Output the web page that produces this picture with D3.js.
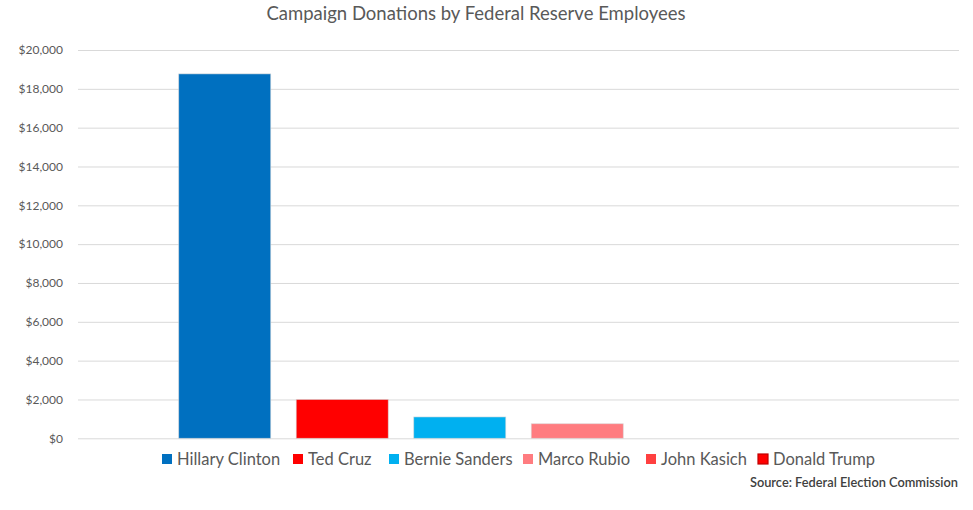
<!DOCTYPE html>
<html><head><meta charset="utf-8">
<script src="https://cdn.jsdelivr.net/npm/d3@7"></script>
<style>
body{margin:0;background:#fff;}
svg{display:block;font-family:Lato, "Open Sans", sans-serif;}
</style></head>
<body><svg id="chart" width="973" height="510"></svg>
<script>
const candidates = ["Hillary Clinton","Ted Cruz","Bernie Sanders","Marco Rubio","John Kasich","Donald Trump"];
const donations = [18770, 2000, 1100, 750, 0, 0];
const colors = ["#0070C0","#FF0000","#00B0F0","#FF7C80","#FF4040","#FF0000"];
const strokes = ["#0070C0","#FF0000","#00B0F0","#FF7C80","#FF4040","#C00000"];
const yTicks = [0,2000,4000,6000,8000,10000,12000,14000,16000,18000,20000];
const title = "Campaign Donations by Federal Reserve Employees";
const source = "Source: Federal Election Commission";

const svg = d3.select("#chart");
const x = d3.scaleBand().domain(candidates).range([78,959]).paddingInner(0.217).paddingOuter(0.857);
const y = d3.scaleLinear().domain([0,20000]).range([438.3,50]);

// gridlines
const yAxis = d3.axisLeft(y).tickValues(yTicks).tickSize(-(959-78)).tickFormat(d=>"$"+d3.format(",")(d)).tickPadding(15);
const g = svg.append("g").attr("transform","translate(78,0)").call(yAxis);
g.select(".domain").remove();
g.selectAll(".tick line").attr("stroke","#d9d9d9").attr("stroke-width",1);
g.selectAll(".tick text").attr("fill","#595959").style("font-size","12px").attr("font-family","Lato, sans-serif");

// bars
const data = candidates.map((c,i)=>({c, v:donations[i], col:colors[i]}));
svg.append("g").selectAll("rect").data(data.filter(d=>d.v>0)).join("rect")
  .attr("x",d=>x(d.c)).attr("width",x.bandwidth())
  .attr("y",d=>y(d.v)).attr("height",d=>y(0)-y(d.v))
  .attr("fill",d=>d.col)
  .attr("stroke","#d8d8d8").attr("stroke-width",0.8).attr("stroke-opacity",0.7);

// title
svg.append("text").attr("x",476).attr("y",20).attr("text-anchor","middle")
  .attr("fill","#595959").style("font-size","18.5px").text(title);

// legend
const legendX = [162,293,389,523,646,758];
const lg = svg.append("g");
candidates.forEach((c,i)=>{
  lg.append("rect").attr("x",legendX[i]).attr("y",454).attr("width",10).attr("height",10)
    .attr("fill",colors[i]).attr("stroke",strokes[i]).attr("stroke-width",i===5?1.2:0);
  lg.append("text").attr("x",legendX[i]+15).attr("y",465).attr("fill","#595959")
    .style("font-size","16.5px").text(c);
});

svg.append("text").attr("x",958).attr("y",487).attr("text-anchor","end")
  .attr("fill","#404040").style("font-size","12.8px").style("font-weight","600").text(source);
</script></body></html>
